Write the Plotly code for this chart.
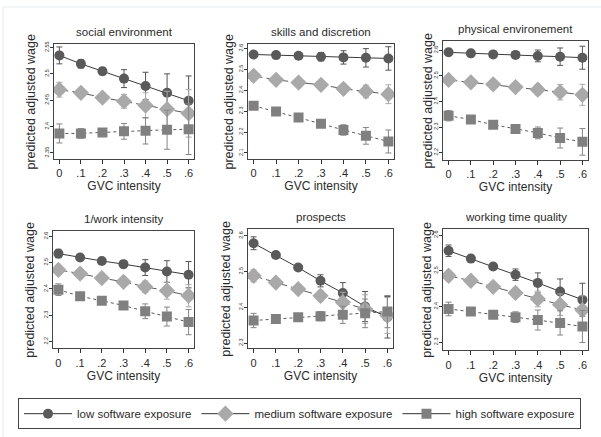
import plotly.graph_objects as go

W, H = 601, 437

gvc = [0, 0.1, 0.2, 0.3, 0.4, 0.5, 0.6]
gvc_labels = ["0", ".1", ".2", ".3", ".4", ".5", ".6"]
series_names = ["low software exposure", "medium software exposure", "high software exposure"]
panel_titles = ["social environment", "skills and discretion", "physical environement",
                "1/work intensity", "prospects", "working time quality"]
y_title = "predicted adjusted wage"
x_title = "GVC intensity"

# social environment
social_low = [2.535, 2.519, 2.505, 2.491, 2.477, 2.464, 2.449]
social_low_err = [0.016, 0.008, 0.007, 0.017, 0.026, 0.036, 0.047]
social_med = [2.470, 2.464, 2.455, 2.448, 2.440, 2.433, 2.425]
social_med_err = [0.014, 0.007, 0.006, 0.013, 0.024, 0.034, 0.045]
social_high = [2.387, 2.387, 2.389, 2.391, 2.392, 2.394, 2.395]
social_high_err = [0.018, 0.009, 0.006, 0.015, 0.025, 0.037, 0.048]

# skills and discretion
skills_low = [2.571, 2.568, 2.565, 2.560, 2.557, 2.555, 2.552]
skills_low_err = [0.010, 0.008, 0.010, 0.020, 0.032, 0.044, 0.056]
skills_med = [2.469, 2.450, 2.437, 2.426, 2.407, 2.394, 2.381]
skills_med_err = [0.010, 0.007, 0.008, 0.012, 0.021, 0.030, 0.045]
skills_high = [2.326, 2.298, 2.270, 2.240, 2.210, 2.182, 2.155]
skills_high_err = [0.012, 0.008, 0.008, 0.012, 0.025, 0.040, 0.055]

# physical environement
phys_low = [2.592, 2.588, 2.584, 2.582, 2.578, 2.575, 2.571]
phys_low_err = [0.013, 0.008, 0.008, 0.013, 0.023, 0.034, 0.045]
phys_med = [2.484, 2.475, 2.467, 2.456, 2.446, 2.436, 2.426]
phys_med_err = [0.010, 0.007, 0.007, 0.011, 0.020, 0.030, 0.041]
phys_high = [2.344, 2.329, 2.309, 2.292, 2.277, 2.257, 2.242]
phys_high_err = [0.020, 0.008, 0.008, 0.012, 0.023, 0.039, 0.052]

# 1/work intensity
work_low = [2.534, 2.519, 2.506, 2.494, 2.481, 2.466, 2.454]
work_low_err = [0.016, 0.008, 0.008, 0.014, 0.030, 0.041, 0.050]
work_med = [2.472, 2.458, 2.441, 2.427, 2.408, 2.393, 2.374]
work_med_err = [0.013, 0.008, 0.008, 0.012, 0.022, 0.032, 0.042]
work_high = [2.397, 2.372, 2.355, 2.337, 2.315, 2.295, 2.274]
work_high_err = [0.022, 0.008, 0.008, 0.015, 0.028, 0.036, 0.048]

# prospects
prosp_low = [2.579, 2.546, 2.511, 2.474, 2.440, 2.402, 2.372]
prosp_low_err = [0.018, 0.008, 0.008, 0.017, 0.029, 0.042, 0.058]
prosp_med = [2.488, 2.469, 2.451, 2.432, 2.414, 2.395, 2.377]
prosp_med_err = [0.017, 0.008, 0.008, 0.015, 0.028, 0.040, 0.050]
prosp_high = [2.363, 2.367, 2.372, 2.375, 2.379, 2.383, 2.388]
prosp_high_err = [0.020, 0.008, 0.008, 0.013, 0.024, 0.040, 0.045]

# working time quality
wtime_low = [2.556, 2.534, 2.512, 2.489, 2.466, 2.442, 2.419]
wtime_low_err = [0.016, 0.008, 0.008, 0.016, 0.028, 0.035, 0.046]
wtime_med = [2.486, 2.472, 2.455, 2.438, 2.421, 2.405, 2.390]
wtime_med_err = [0.014, 0.008, 0.008, 0.013, 0.022, 0.030, 0.040]
wtime_high = [2.393, 2.386, 2.377, 2.370, 2.362, 2.354, 2.344]
wtime_high_err = [0.019, 0.008, 0.008, 0.015, 0.028, 0.034, 0.045]

ytick_vals = [
    [2.35, 2.4, 2.45, 2.5, 2.55],
    [2.1, 2.2, 2.3, 2.4, 2.5, 2.6],
    [2.2, 2.3, 2.4, 2.5, 2.6],
    [2.2, 2.3, 2.4, 2.5, 2.6],
    [2.3, 2.4, 2.5, 2.6],
    [2.3, 2.4, 2.5, 2.6],
]
ytick_text = [
    ["2.35", "2.4", "2.45", "2.5", "2.55"],
    ["2.1", "2.2", "2.3", "2.4", "2.5", "2.6"],
    ["2.2", "2.3", "2.4", "2.5", "2.6"],
    ["2.2", "2.3", "2.4", "2.5", "2.6"],
    ["2.3", "2.4", "2.5", "2.6"],
    ["2.3", "2.4", "2.5", "2.6"],
]
y_ranges = [[2.338, 2.557], [2.07, 2.622], [2.170, 2.637],
            [2.174, 2.620], [2.285, 2.619], [2.277, 2.617]]

panels = [
    (social_low, social_low_err, social_med, social_med_err, social_high, social_high_err),
    (skills_low, skills_low_err, skills_med, skills_med_err, skills_high, skills_high_err),
    (phys_low, phys_low_err, phys_med, phys_med_err, phys_high, phys_high_err),
    (work_low, work_low_err, work_med, work_med_err, work_high, work_high_err),
    (prosp_low, prosp_low_err, prosp_med, prosp_med_err, prosp_high, prosp_high_err),
    (wtime_low, wtime_low_err, wtime_med, wtime_med_err, wtime_high, wtime_high_err),
]

# plot-region boxes in pixels: (left, right, top, bottom), and y-title centre x
boxes = [(54, 194, 42, 158), (248, 394, 42, 158), (443, 588, 39, 159),
         (53, 194, 230, 348), (248, 393, 228, 348), (443, 588, 228, 350)]
ytitle_x = [31, 229, 428, 30, 226, 427]

FONT = "Liberation Sans, Arial, sans-serif"
TXT = "#2a2a2a"
styles = [
    dict(mcolor="#5a5a5a", symbol="circle", size=10, lcolor="#3a3a3a", dash="solid", ecolor="#555555"),
    dict(mcolor="#a9a9a9", symbol="diamond", size=12.5, lcolor="#5a5a5a", dash="9px,4px", ecolor="#aaaaaa"),
    dict(mcolor="#808080", symbol="square", size=10, lcolor="#5a5a5a", dash="3px,3px", ecolor="#858585"),
]

fig = go.Figure()
layout = {}
annotations = []
for i, (vals, box, yr, tv, tt, title) in enumerate(zip(panels, boxes, y_ranges, ytick_vals, ytick_text, panel_titles)):
    n = "" if i == 0 else str(i + 1)
    xa, ya = "x" + n, "y" + n
    for s in range(3):
        st = styles[s]
        fig.add_trace(go.Scatter(
            x=gvc, y=vals[2 * s], xaxis=xa, yaxis=ya, mode="lines+markers",
            line=dict(color=st["lcolor"], width=1, dash=st["dash"]),
            marker=dict(color=st["mcolor"], symbol=st["symbol"], size=st["size"], line=dict(width=0)),
            error_y=dict(type="data", array=vals[2 * s + 1], visible=True, color=st["ecolor"],
                         thickness=1, width=3),
            showlegend=False, hoverinfo="skip"))
    l, r, t, b = box
    layout["xaxis" + n] = dict(
        domain=[l / W, r / W], anchor=ya, range=[-0.025, 0.625],
        tickvals=gvc, ticktext=gvc_labels, ticks="outside", ticklen=4, tickcolor="#333",
        tickfont=dict(size=11, family=FONT, color=TXT),
        showline=True, linecolor="#444", linewidth=1, mirror=True, showgrid=False, zeroline=False,
        title=dict(text=x_title, font=dict(size=12, family=FONT, color=TXT), standoff=1))
    layout["yaxis" + n] = dict(
        domain=[1 - b / H, 1 - t / H], anchor=xa, range=yr,
        tickvals=tv, ticktext=tt, ticks="outside", ticklen=3, tickcolor="#333", tickangle=-90,
        tickfont=dict(size=5.5, family=FONT, color="#333"), ticklabelstandoff=-1,
        showline=True, linecolor="#444", linewidth=1, mirror=True, showgrid=False, zeroline=False)
    annotations.append(dict(text=title, x=(l + r) / 2 / W, y=1 - (t - 12) / H, xref="paper", yref="paper",
                            showarrow=False, xanchor="center", yanchor="middle",
                            font=dict(size=11.5, family=FONT, color=TXT)))
    annotations.append(dict(text=y_title, x=ytitle_x[i] / W, y=1 - (t + b) / 2 / H, xref="paper", yref="paper",
                            showarrow=False, xanchor="center", yanchor="middle", textangle=-90,
                            font=dict(size=12.5, family=FONT, color=TXT)))

# legend entries (solid lines as in the reference legend)
for s in range(3):
    st = styles[s]
    fig.add_trace(go.Scatter(
        x=[None], y=[None], mode="lines+markers", name=series_names[s],
        line=dict(color="#333333", width=1, dash="solid"),
        marker=dict(color=st["mcolor"], symbol=st["symbol"], size=st["size"], line=dict(width=0)),
        showlegend=True, hoverinfo="skip"))

shapes = [
    dict(type="line", xref="paper", yref="paper", x0=3 / W, x1=1, y0=1 - 5 / H, y1=1 - 5 / H,
         line=dict(color="#e6ecee", width=1)),
    dict(type="line", xref="paper", yref="paper", x0=3 / W, x1=3 / W, y0=0, y1=1 - 5 / H,
         line=dict(color="#e6ecee", width=1)),
]

fig.update_layout(
    width=W, height=H, margin=dict(l=0, r=0, t=0, b=0),
    paper_bgcolor="white", plot_bgcolor="white",
    font=dict(family=FONT, color=TXT),
    annotations=annotations, shapes=shapes,
    legend=dict(orientation="h", x=18 / W, y=1 - 398 / H, xanchor="left", yanchor="top",
                bordercolor="#444", borderwidth=1, bgcolor="white",
                font=dict(size=11.5, family=FONT, color=TXT), itemwidth=48,
                tracegroupgap=0),
    **layout)

fig.write_html("out.html")
